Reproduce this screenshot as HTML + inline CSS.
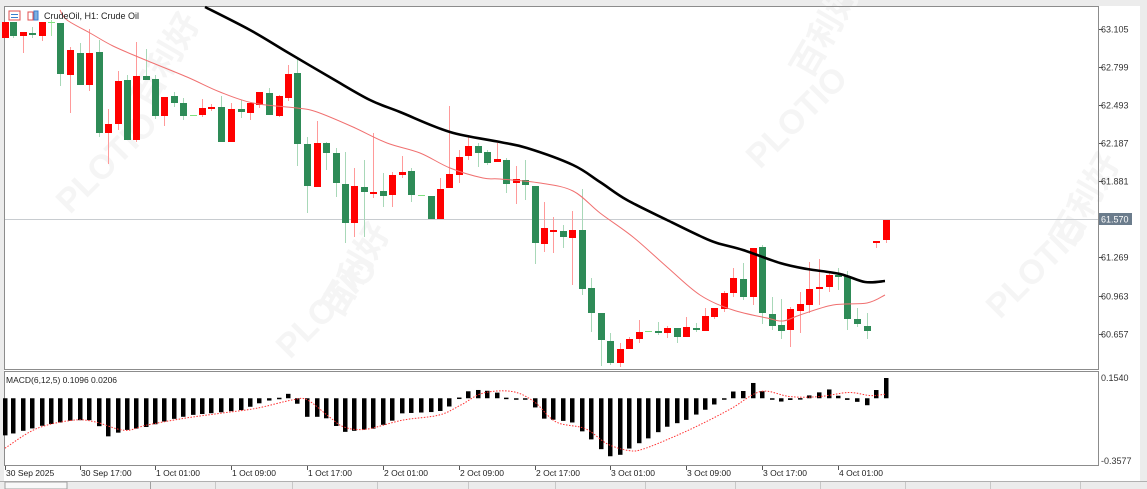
<!DOCTYPE html>
<html><head><meta charset="utf-8">
<style>
html,body{margin:0;padding:0;background:#fff;}
body{width:1147px;height:489px;overflow:hidden;position:relative;font-family:"Liberation Sans",sans-serif;}
svg{position:absolute;left:0;top:0;}
text{font-family:"Liberation Sans","Noto Sans CJK SC",sans-serif;}
</style></head><body>
<svg id="s" width="1147" height="489" viewBox="0 0 1147 489" xmlns="http://www.w3.org/2000/svg">
<rect x="0" y="0" width="1147" height="489" fill="#ffffff"/>
<rect x="0" y="0" width="1147" height="6" fill="#ececec"/>
<rect x="1140" y="0" width="7" height="489" fill="#ececec"/>
<rect x="0" y="0" width="4" height="489" fill="#ececec"/>
<g id="wm" fill="#f5f5f5" font-size="34" font-weight="bold"></g>
<g id="g"></g>
</svg>
<script>
var g=document.getElementById('g');var NS='http://www.w3.org/2000/svg';
function el(t,a,txt){var e=document.createElementNS(NS,t);for(var k in a)e.setAttribute(k,a[k]);if(txt!==undefined)e.textContent=txt;g.appendChild(e);return e;}
var wm=document.getElementById('wm');
[[70,215],[290,360],[760,170],[1000,320]].forEach(function(p){
 var t=document.createElementNS(NS,'text');t.setAttribute('x',p[0]);t.setAttribute('y',p[1]);t.setAttribute('transform','rotate(-45 '+p[0]+' '+p[1]+')');t.textContent='PLOTIO';wm.appendChild(t);
});
[[150,110],[340,320],[810,80],[1070,250]].forEach(function(p){
 var t=document.createElementNS(NS,'text');t.setAttribute('x',p[0]);t.setAttribute('y',p[1]);t.setAttribute('transform','rotate(-60 '+p[0]+' '+p[1]+')');t.textContent='百利好';wm.appendChild(t);
});
el('rect',{x:4.5,y:6.5,width:1094,height:363,fill:'none',stroke:'#8c8c8c','stroke-width':1});
el('rect',{x:4.5,y:371.5,width:1094,height:94,fill:'none',stroke:'#8c8c8c','stroke-width':1});
el('line',{x1:5,y1:219.5,x2:1098,y2:219.5,stroke:'#c8ccd0','stroke-width':1});
var yl=[["63.105",29],["62.799",67],["62.493",105],["62.187",143],["61.881",181],["61.269",257],["60.963",296],["60.657",334]];
yl.forEach(function(a){el('line',{x1:1099,y1:a[1]+.5,x2:1103,y2:a[1]+.5,stroke:'#555'});el('text',{x:1101,y:a[1]+3.5,'font-size':9,fill:'#333'},a[0]);});
el('rect',{x:1099,y:213,width:33,height:12,fill:'#6b7c8c'});
el('text',{x:1101,y:222.5,'font-size':9,fill:'#fff'},'61.570');
el('text',{x:1101,y:381,'font-size':9,fill:'#333'},'0.1540');
el('text',{x:1101,y:464,'font-size':9,fill:'#333'},'-0.3577');
var C=[[5,38,22,22,38],[13,22,36,22,38],[23,36,32,32,53],[32,33,34,27,38],[42,36,22,22,41],[51,22,22,20,36],[60,23,74,23,86],[70,75,50,47,113],[80,53,85,43,85],[89,85,53,29,91],[99,52,133,40,137],[108,133,124,109,164],[118,124,81,71,130],[127,80,140,75,140],[136,140,76,42,142],[146,76,80,49,80],[155,79,116,75,119],[164,116,97,97,126],[174,96,103,92,107],[183,103,116,98,120],[193,115,115,115,115],[202,115,108,99,117],[211,109,107,104,111],[221,107,142,96,142],[231,142,109,103,142],[241,109,112,100,118],[250,113,103,103,120],[259,105,92,92,108],[269,93,115,88,115],[279,116,96,95,117],[288,98,74,65,101],[297,73,144,58,166],[307,144,186,137,213],[317,187,143,121,187],[326,143,153,142,170],[336,153,183,148,197],[345,184,223,152,243],[354,223,186,168,237],[364,187,192,160,237],[373,193,192,133,198],[383,191,196,173,207],[392,195,175,172,207],[402,175,172,156,178],[411,171,195,168,202],[421,195,195,195,195],[431,196,219,196,219],[440,219,189,178,219],[449,188,174,106,188],[459,175,157,150,183],[468,156,146,137,160],[478,146,153,143,167],[487,152,163,150,165],[497,162,159,143,162],[506,160,184,158,193],[516,183,179,166,204],[525,180,185,160,200],[535,186,243,186,264],[544,244,228,202,252],[553,231,230,217,253],[563,231,237,225,248],[572,238,230,211,285],[582,230,289,189,295],[591,288,313,278,332],[601,313,340,313,366],[610,341,363,333,365],[620,363,349,343,367],[629,349,339,337,349],[639,339,332,320,343],[648,331,331,331,331],[658,331,332,322,335],[667,333,328,326,338],[677,328,337,328,343],[686,337,327,317,337],[696,328,329,323,332],[705,331,316,308,331],[714,317,308,308,319],[724,309,293,291,312],[733,293,278,268,297],[743,279,297,263,300],[753,297,248,248,305],[762,247,313,245,324],[772,314,326,297,330],[781,325,331,299,339],[790,330,309,307,347],[800,311,304,292,333],[809,305,289,262,313],[819,289,287,259,305],[829,287,275,271,292],[838,275,277,268,290],[847,276,319,271,330],[857,319,324,308,327],[867,326,331,313,339],[876,243,241,241,248],[886,240,220,220,243]];
C.forEach(function(c){
 var x=c[0],o=c[1],cl=c[2],h=c[3],l=c[4];
 var up=cl<o, doji=Math.abs(cl-o)<1;
 var body=up?'#ff0000':'#2e8b57', wick=up?'#ff9a9a':'#a8d8b8';
 if(doji){el('line',{x1:x+.5,y1:h,x2:x+.5,y2:l,stroke:'#a8e8a8'});el('line',{x1:x-3,y1:o+.5,x2:x+4,y2:o+.5,stroke:'#7fe07f'});return;}
 el('line',{x1:x+.5,y1:h,x2:x+.5,y2:l,stroke:wick});
 var t=Math.min(o,cl),b=Math.max(o,cl);
 el('rect',{x:x-3,y:t,width:7,height:Math.max(b-t,2),fill:body});
});
function smooth(p){var d='M'+p[0][0]+','+p[0][1];for(var i=0;i<p.length-1;i++){var p0=p[i-1]||p[i],p1=p[i],p2=p[i+1],p3=p[i+2]||p2;
 var c1x=p1[0]+(p2[0]-p0[0])/6,c1y=p1[1]+(p2[1]-p0[1])/6,c2x=p2[0]-(p3[0]-p1[0])/6,c2y=p2[1]-(p3[1]-p1[1])/6;
 d+=' C'+c1x.toFixed(1)+','+c1y.toFixed(1)+' '+c2x.toFixed(1)+','+c2y.toFixed(1)+' '+p2[0]+','+p2[1];}return d;}
var blk=[[205,7],[250,30],[287,52],[333,79],[370,100],[400,112],[450,132],[500,142],[527,148],[573,165],[600,182],[627,200],[667,220],[700,236],[717,243],[743,250],[780,263],[807,269],[840,274],[865,282],[885,281]];
el('path',{d:smooth(blk),fill:'none',stroke:'#000','stroke-width':2.6,'stroke-linejoin':'round'});
var red=[[60,10],[67,20],[90,33],[113,46],[143,59],[187,77],[220,92],[253,103],[297,108],[317,112],[353,127],[387,143],[420,153],[450,168],[483,178],[500,179],[540,183],[573,191],[600,213],[633,237],[667,267],[700,295],[733,310],[767,318],[783,321],[800,315],[833,305],[867,303],[885,295]];
el('path',{d:smooth(red),fill:'none',stroke:'#f07070','stroke-width':1});
function zy(v){return 377+(v-57)*0.3374;}
var bars=[[8,230],[60,200],[100,185],[130,185],[145,235],[170,215],[200,205],[230,185],[260,170],[300,162],[330,155],[360,130],[379,122],[392,103],[405,133],[418,175],[443,175],[470,220],[510,210],[534,190],[547,165],[599,160],[612,148],[625,122],[638,100],[651,95],[677,100],[690,118],[716,122],[729,140],[742,180],[781,190],[794,215],[807,240],[820,268],[833,292],[846,290],[859,270],[885,240],[911,205],[937,185],[963,155],[989,122],[1002,100],[1015,100],[1028,72],[1041,98],[1054,120],[1067,130],[1093,120],[1119,103],[1132,92],[1145,112],[1158,125],[1171,130],[1184,145],[1197,97],[1210,60]];
function interp(arr,zx){for(var i=0;i<arr.length-1;i++){if(zx<=arr[i+1][0]){var a=arr[i],b=arr[i+1];return a[1]+(b[1]-a[1])*(zx-a[0])/(b[0]-a[0]);}}return arr[arr.length-1][1];}
var zero=zy(120);
C.forEach(function(c){var zx=c[0]*1.367;var yy=zy(interp(bars,Math.max(8,zx)));var t=Math.min(yy,zero),h=Math.abs(yy-zero);el('rect',{x:c[0]-2,y:t,width:4.5,height:Math.max(h,1.5),fill:'#000'});});
var sig=[[0,268],[50,210],[100,185],[130,190],[170,215],[200,200],[250,180],[300,165],[350,150],[400,125],[420,125],[450,175],[470,205],[500,212],[550,185],[600,170],[630,140],[660,105],[700,100],[730,130],[760,190],[800,210],[830,255],[860,275],[880,270],[920,235],[960,195],[1000,150],[1040,100],[1080,115],[1120,115],[1160,103],[1190,112],[1210,108]];
el('path',{d:smooth(sig.map(function(p){return [+(Math.max(5,p[0]/1.367)).toFixed(1),+zy(p[1]).toFixed(1)]})),fill:'none',stroke:'#ff3030','stroke-width':1,'stroke-dasharray':'1.5,1.5'});
el('text',{x:6,y:383,'font-size':8.5,fill:'#222'},'MACD(6,12,5) 0.1096 0.0206');
el('rect',{x:9,y:11,width:11,height:9,fill:'#fff',stroke:'#e05050'});
el('line',{x1:11,y1:14.5,x2:18,y2:14.5,stroke:'#3a7fd0'});el('line',{x1:11,y1:17.5,x2:18,y2:17.5,stroke:'#3a7fd0'});
el('rect',{x:28,y:12,width:5,height:8,fill:'none',stroke:'#e05050'});el('rect',{x:34,y:11,width:4,height:9,fill:'#7fb0e0',stroke:'#3a7fd0'});
el('text',{x:44,y:19,'font-size':9,fill:'#222'},'CrudeOil, H1:  Crude Oil');
var tl=[["30 Sep 2025",5],["30 Sep 17:00",80],["1 Oct 01:00",155],["1 Oct 09:00",231],["1 Oct 17:00",307],["2 Oct 01:00",383],["2 Oct 09:00",459],["2 Oct 17:00",535],["3 Oct 01:00",610],["3 Oct 09:00",686],["3 Oct 17:00",762],["4 Oct 01:00",838]];
tl.forEach(function(a){el('line',{x1:a[1]+.5,y1:466,x2:a[1]+.5,y2:470,stroke:'#555'});el('text',{x:a[1]+1,y:476,'font-size':8.5,fill:'#222'},a[0]);});
el('rect',{x:0,y:481,width:1147,height:8,fill:'#ececec'});
el('line',{x1:0,y1:481.5,x2:1147,y2:481.5,stroke:'#b0b0b0'});
el('rect',{x:5,y:482,width:62,height:7,fill:'#f8f8f8',stroke:'#a0a0a0'});
el('line',{x1:150.5,y1:482,x2:150.5,y2:489,stroke:'#a0a0a0'});
[215,292,377,468,555,645,735,820,905,990,1080].forEach(function(x){el('line',{x1:x+.5,y1:482,x2:x+.5,y2:489,stroke:'#c8c8c8'});});
</script>
</body></html>
